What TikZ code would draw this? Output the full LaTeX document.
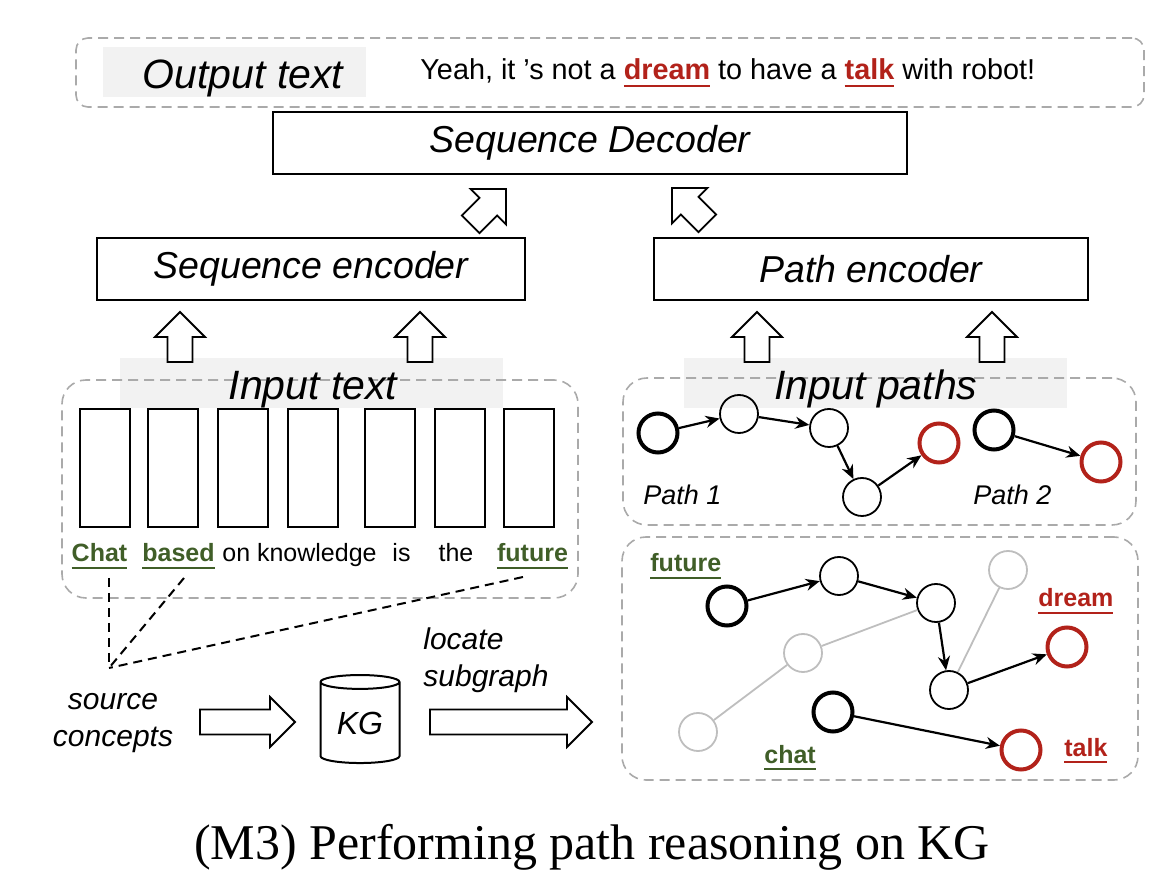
\documentclass[tikz,border=0pt]{standalone}
\usepackage{fontspec}
\setmainfont{Liberation Sans}
\newfontfamily\capserif{Liberation Serif}
\usetikzlibrary{arrows.meta,shapes.geometric}
\definecolor{kgreen}{RGB}{64,94,40}
\definecolor{kred}{RGB}{178,34,26}
\definecolor{dashgray}{RGB}{170,170,170}
\definecolor{bandgray}{RGB}{242,242,242}
\definecolor{lgray}{RGB}{190,190,190}
\newcommand\ulw[2]{{\color{#1}\bfseries\setbox0\hbox{#2}\rlap{\rule[-3.6pt]{\wd0}{1.2pt}}\box0}}
\newcommand\hollowarr[4]{\draw[hollow, shift={(#1,#2)}, rotate=#3] (0,0) -- (25,25) -- (12.5,25) -- (12.5,#4) -- (-12.5,#4) -- (-12.5,25) -- (-25,25) -- cycle;}
\begin{document}
\begin{tikzpicture}[x=0.5pt,y=-0.5pt,
  dashbox/.style={draw=dashgray, line width=0.8pt, dash pattern=on 5pt off 3pt, rounded corners=12pt, inner sep=0pt},
  band/.style={fill=bandgray, draw=none, inner sep=0pt},
  blockbox/.style={draw=black, line width=1pt, inner sep=0pt, font=\fontsize{18.75}{22}\selectfont\itshape},
  token/.style={draw=black, line width=1pt, minimum width=25pt, minimum height=59pt, inner sep=0pt},
  hollow/.style={draw=black, line width=0.9pt, fill=white, line join=miter},
  bigit/.style={font=\fontsize{20.5}{24}\selectfont\itshape, inner sep=0pt, anchor=base},
  midit/.style={font=\fontsize{15}{18}\selectfont\itshape, inner sep=0pt, anchor=base},
  word/.style={font=\fontsize{12.5}{15}\selectfont, inner sep=0pt, anchor=base},
  cnode/.style={circle, draw=black, line width=0.9pt, minimum size=19pt, inner sep=0pt},
  thicknode/.style={circle, draw=black, line width=2pt, minimum size=19.5pt, inner sep=0pt},
  rednode/.style={circle, draw=kred, line width=2pt, minimum size=19.5pt, inner sep=0pt},
  graynode/.style={circle, draw=lgray, line width=0.9pt, minimum size=19pt, inner sep=0pt},
  kedge/.style={-{Stealth[length=7pt,width=6pt]}, line width=1.1pt},
  gedge/.style={draw=lgray, line width=0.9pt},
  srcline/.style={line width=1pt, dash pattern=on 4.5pt off 3pt}
]
\useasboundingbox (0,0) rectangle (1168,876);

% ---------- output text ----------
\node[band, minimum width=131.5pt, minimum height=25pt] (outband) at (234.5,72) {};
\node[dashbox, rounded corners=6pt, minimum width=534pt, minimum height=34.5pt] (outbox) at (610,72.5) {};
\node[bigit] (outlbl) at (243,89) {Output text};
\node[anchor=base west, inner sep=0pt, font=\fontsize{14.4}{17}\selectfont] (sent) at (420,80)
  {Yeah, it ’s not a \ulw{kred}{dream} to have a \ulw{kred}{talk} with robot!};

% ---------- decoder / encoders ----------
\node[blockbox, minimum width=317pt, minimum height=31pt] (dec) at (590,143) {Sequence Decoder};
\node[blockbox, minimum width=214pt, minimum height=31pt] (senc) at (311,269) {Sequence encoder};
\node[blockbox, minimum width=217pt, minimum height=31pt] (penc) at (871,269) {Path encoder};

\hollowarr{506}{189}{-45}{50}
\hollowarr{672}{188}{45}{50}

% ---------- input text ----------
\node[band, minimum width=191.5pt, minimum height=25pt] (inband) at (311.5,383) {};
\node[dashbox, minimum width=258pt, minimum height=109pt] (inbox) at (320,489) {};
\node[bigit] (inlbl) at (313,400) {Input text};
\hollowarr{180}{312}{0}{50}
\hollowarr{420}{312}{0}{50}

\node[token] (t1) at (105,468) {};
\node[token] (t2) at (173,468) {};
\node[token] (t3) at (242.5,468) {};
\node[token] (t4) at (312.5,468) {};
\node[token] (t5) at (389.5,468) {};
\node[token] (t6) at (459.5,468) {};
\node[token] (t7) at (528.5,468) {};

\node[word] (w1) at (99.5,562) {\ulw{kgreen}{Chat}};
\node[word] (w2) at (178.5,562) {\ulw{kgreen}{based}};
\node[word] (w3) at (299.5,562) {on knowledge};
\node[word] (w4) at (401.5,562) {is};
\node[word] (w5) at (456,562) {the};
\node[word] (w6) at (532.5,562) {\ulw{kgreen}{future}};

\coordinate (src) at (109,668);
\draw[srcline] ([xshift=4.75pt,yshift=-8pt]w1.base) -- (src);
\draw[srcline] ([xshift=2.75pt,yshift=-8pt]w2.base) -- (src);
\draw[srcline] ([xshift=-4.75pt,yshift=-7.5pt]w6.base) -- (src);

% ---------- source concepts -> KG -> subgraph ----------
\node[midit] (sc1) at (113,710) {source};
\node[midit] (sc2) at (113,747) {concepts};
\hollowarr{295}{722}{-90}{95}
\node[cylinder, shape border rotate=90, draw=black, line width=1pt, aspect=0.3,
      minimum width=39.5pt, minimum height=44pt, inner sep=0pt,
      font=\fontsize{16}{19}\selectfont\itshape] (kg) at (360,723) {KG};
\node[midit, anchor=base west] (loc1) at (423,650) {locate};
\node[midit, anchor=base west] (loc2) at (423,687) {subgraph};
\hollowarr{592}{722}{-90}{162}

% ---------- input paths ----------
\node[band, minimum width=191.5pt, minimum height=25pt] (pband) at (875.5,383) {};
\node[dashbox, minimum width=256.5pt, minimum height=73.5pt] (pbox) at (879.5,451.5) {};
\node[bigit] (plbl) at (876,400) {Input paths};
\hollowarr{757}{312}{0}{50}
\hollowarr{992}{312}{0}{50}

\node[thicknode] (pa) at (658,433) {};
\node[cnode] (pb) at (739,414) {};
\node[cnode] (pc) at (829,428) {};
\node[cnode] (pd) at (862,497) {};
\node[rednode] (pe) at (939,443) {};
\node[thicknode] (qa) at (994,430) {};
\node[rednode] (qb) at (1101,462) {};
\draw[kedge] (pa) -- (pb);
\draw[kedge] (pb) -- (pc);
\draw[kedge] (pc) -- (pd);
\draw[kedge] (pd) -- (pe);
\draw[kedge] (qa) -- (qb);
\node[font=\fontsize{13.5}{16}\selectfont\itshape, inner sep=0pt, anchor=base west] (path1) at (643,505) {Path 1};
\node[font=\fontsize{13.5}{16}\selectfont\itshape, inner sep=0pt, anchor=base west] (path2) at (973,505) {Path 2};

% ---------- subgraph ----------
\node[dashbox, minimum width=258pt, minimum height=121.5pt] (gbox) at (880,658.5) {};
\node[graynode] (ga) at (1008,570) {};
\node[graynode] (gb) at (803,653) {};
\node[graynode] (gc) at (698,732) {};
\node[thicknode] (sf) at (727,606) {};
\node[cnode] (s2) at (839,576) {};
\node[cnode] (s3) at (936,603) {};
\node[cnode] (s4) at (949,690) {};
\node[rednode] (sd) at (1067,647) {};
\node[thicknode] (sch) at (833,712) {};
\node[rednode] (st) at (1021,750) {};
\draw[gedge] (gc) -- (gb);
\draw[gedge] (gb) -- (s3);
\draw[gedge] (ga) -- (s4);
\draw[kedge] (sf) -- (s2);
\draw[kedge] (s2) -- (s3);
\draw[kedge] (s3) -- (s4);
\draw[kedge] (s4) -- (sd);
\draw[kedge] (sch) -- (st);
\node[word, anchor=base west] (lfut) at (650,572) {\ulw{kgreen}{future}};
\node[word, anchor=base west] (ldream) at (1038,607) {\ulw{kred}{dream}};
\node[word, anchor=base west] (lchat) at (764,763) {\ulw{kgreen}{chat}};
\node[word, anchor=base west] (ltalk) at (1064,756) {\ulw{kred}{talk}};

% ---------- caption ----------
\node[font=\capserif\fontsize{25}{30}\selectfont, inner sep=0pt, anchor=base] (cap) at (592,859) {(M3) Performing path reasoning on KG};
\end{tikzpicture}
\end{document}
